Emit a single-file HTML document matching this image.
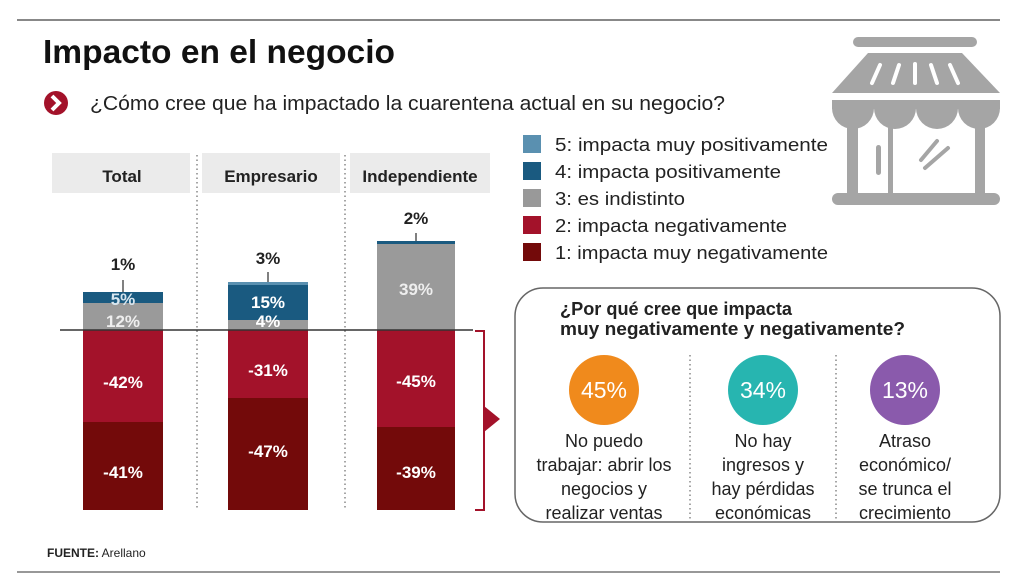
<!DOCTYPE html>
<html><head><meta charset="utf-8"><style>
html,body{margin:0;padding:0;background:#fff;}
svg{display:block;font-family:"Liberation Sans",sans-serif;}
</style></head><body>
<svg width="1023" height="580" viewBox="0 0 1023 580" xmlns="http://www.w3.org/2000/svg">
<rect width="1023" height="580" fill="#fff"/>
<line x1="17" y1="20" x2="1000" y2="20" stroke="#888" stroke-width="2"/>
<text x="43" y="63" font-size="33" font-weight="bold" fill="#111" textLength="352" lengthAdjust="spacingAndGlyphs">Impacto en el negocio</text>
<circle cx="56" cy="103" r="12" fill="#a3122a"/>
<path d="M52 96 L59 103 L52 110" stroke="#fff" stroke-width="4" fill="none"/>
<text x="90" y="110" font-size="20" fill="#222" textLength="635" lengthAdjust="spacingAndGlyphs">¿Cómo cree que ha impactado la cuarentena actual en su negocio?</text>

<!-- legend -->
<g font-size="18" fill="#222">
<rect x="523" y="135" width="18" height="18" fill="#5a90b0"/><text x="555" y="151" textLength="273" lengthAdjust="spacingAndGlyphs">5: impacta muy positivamente</text>
<rect x="523" y="162" width="18" height="18" fill="#1a5a80"/><text x="555" y="178" textLength="226" lengthAdjust="spacingAndGlyphs">4: impacta positivamente</text>
<rect x="523" y="189" width="18" height="18" fill="#999"/><text x="555" y="205" textLength="130" lengthAdjust="spacingAndGlyphs">3: es indistinto</text>
<rect x="523" y="216" width="18" height="18" fill="#a3122a"/><text x="555" y="232" textLength="232" lengthAdjust="spacingAndGlyphs">2: impacta negativamente</text>
<rect x="523" y="243" width="18" height="18" fill="#730a0a"/><text x="555" y="259" textLength="273" lengthAdjust="spacingAndGlyphs">1: impacta muy negativamente</text>
</g>

<!-- store icon -->
<g fill="#a5a5a5">
<rect x="853" y="37" width="124" height="10" rx="5"/>
<polygon points="868,53 962,53 1000,93 832,93"/>
<rect x="832" y="100" width="168" height="9"/>
<path d="M832 108 a21 21 0 0 0 42 0 a21 21 0 0 0 42 0 a21 21 0 0 0 42 0 a21 21 0 0 0 42 0 z"/>
<rect x="847" y="120" width="11" height="76"/>
<rect x="975" y="120" width="10" height="76"/>
<rect x="888" y="120" width="5" height="76"/>
<rect x="832" y="193" width="168" height="12" rx="6"/>
<rect x="876" y="145" width="5" height="30" rx="2.5"/>
</g>
<g stroke="#fff" stroke-width="4" stroke-linecap="round">
<line x1="872" y1="83" x2="880" y2="65"/><line x1="893" y1="83" x2="899" y2="65"/>
<line x1="915" y1="83" x2="915" y2="64"/><line x1="937" y1="83" x2="931" y2="65"/><line x1="958" y1="83" x2="950" y2="65"/>
</g>
<g stroke="#a5a5a5" stroke-width="4" stroke-linecap="round">
<line x1="921" y1="160" x2="937" y2="141"/><line x1="925" y1="168" x2="948" y2="148"/>
</g>

<!-- headers -->
<rect x="52" y="153" width="138" height="40" fill="#ebebeb"/>
<rect x="202" y="153" width="138" height="40" fill="#ebebeb"/>
<rect x="350" y="153" width="140" height="40" fill="#ebebeb"/>
<g font-size="17" font-weight="bold" fill="#222" text-anchor="middle">
<text x="122" y="182">Total</text><text x="271" y="182">Empresario</text><text x="420" y="182">Independiente</text>
</g>
<g stroke="#888" stroke-width="1.5" stroke-dasharray="1.5,3">
<line x1="197" y1="155" x2="197" y2="510"/><line x1="345" y1="155" x2="345" y2="510"/>
<line x1="690" y1="355" x2="690" y2="520"/><line x1="836" y1="355" x2="836" y2="520"/>
</g>

<!-- bars -->
<rect x="83" y="292" width="80" height="12" fill="#1a5a80"/>
<rect x="83" y="303" width="80" height="27" fill="#9a9a9a"/>
<rect x="83" y="330" width="80" height="92" fill="#a3122a"/>
<rect x="83" y="422" width="80" height="88" fill="#730a0a"/>

<rect x="228" y="282" width="80" height="4" fill="#5a90b0"/>
<rect x="228" y="285" width="80" height="35" fill="#1a5a80"/>
<rect x="228" y="320" width="80" height="10" fill="#9a9a9a"/>
<rect x="228" y="330" width="80" height="68" fill="#a3122a"/>
<rect x="228" y="398" width="80" height="112" fill="#730a0a"/>

<rect x="377" y="241" width="78" height="4" fill="#1a5a80"/>
<rect x="377" y="244" width="78" height="86" fill="#9a9a9a"/>
<rect x="377" y="330" width="78" height="97" fill="#a3122a"/>
<rect x="377" y="427" width="78" height="83" fill="#730a0a"/>

<line x1="60" y1="330" x2="473" y2="330" stroke="#333" stroke-width="1.5"/>
<g stroke="#555" stroke-width="1.5">
<line x1="123" y1="280" x2="123" y2="292"/><line x1="268" y1="272" x2="268" y2="282"/><line x1="416" y1="233" x2="416" y2="241"/>
</g>
<g font-size="17" font-weight="bold" fill="#222" text-anchor="middle">
<text x="123" y="270">1%</text><text x="268" y="264">3%</text><text x="416" y="224">2%</text>
</g>
<g font-size="17" font-weight="bold" fill="#fff" text-anchor="middle">
<text x="123" y="305" fill="#d8e6ef">5%</text><text x="123" y="327" fill="#eee">12%</text>
<text x="123" y="388">-42%</text><text x="123" y="478">-41%</text>
<text x="268" y="308">15%</text><text x="268" y="327">4%</text>
<text x="268" y="376">-31%</text><text x="268" y="457">-47%</text>
<text x="416" y="295" fill="#eee">39%</text>
<text x="416" y="387">-45%</text><text x="416" y="478">-39%</text>
</g>
<!-- bracket -->
<path d="M475 331 H484 V510 H475" stroke="#a3122a" stroke-width="2" fill="none"/>
<polygon points="484,406 500,419 484,432" fill="#a3122a"/>

<!-- reasons box -->
<rect x="515" y="288" width="485" height="234" rx="28" fill="none" stroke="#666" stroke-width="1.5"/>
<g font-size="18" font-weight="bold" fill="#222">
<text x="560" y="315" textLength="232" lengthAdjust="spacingAndGlyphs">¿Por qué cree que impacta</text>
<text x="560" y="335" textLength="345" lengthAdjust="spacingAndGlyphs">muy negativamente y negativamente?</text>
</g>
<circle cx="604" cy="390" r="35" fill="#f08a1c"/>
<circle cx="763" cy="390" r="35" fill="#27b5b0"/>
<circle cx="905" cy="390" r="35" fill="#8a5aac"/>
<g font-size="23" fill="#fff" text-anchor="middle">
<text x="604" y="398">45%</text><text x="763" y="398">34%</text><text x="905" y="398">13%</text>
</g>
<g font-size="18" fill="#222" text-anchor="middle">
<text x="604" y="447">No puedo</text><text x="604" y="471">trabajar: abrir los</text><text x="604" y="495">negocios y</text><text x="604" y="519">realizar ventas</text>
<text x="763" y="447">No hay</text><text x="763" y="471">ingresos y</text><text x="763" y="495">hay pérdidas</text><text x="763" y="519">económicas</text>
<text x="905" y="447">Atraso</text><text x="905" y="471">económico/</text><text x="905" y="495">se trunca el</text><text x="905" y="519">crecimiento</text>
</g>

<text x="47" y="557" font-size="12" fill="#222"><tspan font-weight="bold">FUENTE:</tspan> Arellano</text>
<line x1="17" y1="572" x2="1000" y2="572" stroke="#777" stroke-width="1.5"/>
</svg>
</body></html>
